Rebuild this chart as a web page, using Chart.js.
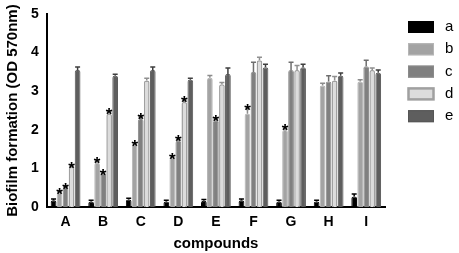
<!DOCTYPE html>
<html><head><meta charset="utf-8">
<script src="https://cdn.jsdelivr.net/npm/chart.js@4"></script>
<style>html,body{margin:0;padding:0;background:#fff}#wrap{width:459px;height:253px}</style>
</head><body><div id="wrap"><canvas id="c" width="459" height="253"></canvas></div>
<script>
const categories = ['A','B','C','D','E','F','G','H','I'];
const seriesNames = ['a','b','c','d','e'];
const valuesA = [0.18,0.15,0.20,0.15,0.17,0.18,0.15,0.15,0.28];
const valuesB = [0.38,1.15,1.62,1.28,3.35,2.42,2.00,3.15,3.25];
const valuesC = [0.50,0.88,2.28,1.72,2.25,3.50,3.55,3.25,3.65];
const valuesD = [1.05,2.42,3.28,2.72,3.18,3.80,3.55,3.28,3.55];
const valuesE = [3.55,3.40,3.55,3.30,3.45,3.62,3.62,3.40,3.48];
const errA = [0.03,0.03,0.03,0.03,0.03,0.03,0.03,0.03,0.06];
const errB = [0.03,0.06,0.05,0.05,0.06,0.18,0.08,0.06,0.05];
const errC = [0.04,0.04,0.08,0.08,0.06,0.25,0.20,0.15,0.15];
const errD = [0.04,0.06,0.06,0.08,0.05,0.08,0.12,0.10,0.05];
const errE = [0.08,0.04,0.08,0.04,0.15,0.08,0.08,0.07,0.07];
const starsA = [0,0,0,0,0,0,0,0,0];
const starsB = [1,1,1,1,0,1,1,0,0];
const starsC = [1,1,1,1,1,0,0,0,0];
const starsD = [1,1,0,1,0,0,0,0,0];
const starsE = [0,0,0,0,0,0,0,0,0];
const yTicks = [0,1,2,3,4,5];

const fills = ['#000000','#a3a3a3','#808080','#dcdcdc','#5e5e5e'];
const borders = ['#000000','#b5b5b5','#8a8a8a','#a0a0a0','#555555'];
const capCol = ['#000000','#8c8c8c','#6e6e6e','#909090','#3e3e3e'];
const allVals = [valuesA,valuesB,valuesC,valuesD,valuesE];
const allErr = [errA,errB,errC,errD,errE];
const allStars = [starsA,starsB,starsC,starsD,starsE];

const datasets = seriesNames.map((n,i)=>({
  label:n, data:allVals[i], backgroundColor:fills[i], borderColor:borders[i],
  borderWidth: i===3?1.5:1, borderSkipped:'bottom', borderRadius:{topLeft:2,topRight:2},
  categoryPercentage:0.8, barPercentage:0.95
}));

const extras = {
  id:'extras',
  afterDatasetsDraw(chart){
    const ctx = chart.ctx; const y = chart.scales.y;
    chart.data.datasets.forEach((ds,i)=>{
      const meta = chart.getDatasetMeta(i);
      meta.data.forEach((bar,j)=>{
        const v = ds.data[j], e = allErr[i][j];
        const yt = y.getPixelForValue(v+e), yv = y.getPixelForValue(v);
        ctx.save(); ctx.strokeStyle = capCol[i]; ctx.lineWidth = 1.5;
        ctx.beginPath(); ctx.moveTo(bar.x, yv); ctx.lineTo(bar.x, yt);
        ctx.moveTo(bar.x-2.5, yt); ctx.lineTo(bar.x+2.5, yt); ctx.stroke();
        if (allStars[i][j]) {
          ctx.fillStyle='#000'; ctx.font='bold 17px "Liberation Sans", Arial';
          ctx.textAlign='center'; ctx.textBaseline='alphabetic';
          ctx.fillText('*', bar.x, yt+9);
        }
        ctx.restore();
      });
    });
  },
  afterDraw(chart){
    const ctx = chart.ctx;
    ctx.save();
    chart.data.datasets.forEach((ds,i)=>{
      const top = 21 + i*22.3;
      ctx.fillStyle = fills[i]; ctx.strokeStyle = borders[i];
      ctx.lineWidth = i===3?2.5:1;
      ctx.fillRect(408, top, 26, 12);
      ctx.strokeRect(408.5, top+0.5, 25, 11);
      ctx.fillStyle='#000'; ctx.font='15px "Liberation Sans", Arial';
      ctx.textAlign='left'; ctx.textBaseline='middle';
      ctx.fillText(ds.label, 445, top+6);
    });
    ctx.restore();
  }
};

new Chart(document.getElementById('c'), {
  type:'bar',
  data:{labels:categories, datasets},
  options:{
    responsive:false, animation:false, devicePixelRatio:1,
    layout:{padding:{top:14,right:74,left:4,bottom:0}},
    plugins:{legend:{display:false}, tooltip:{enabled:false}},
    scales:{
      x:{grid:{display:false, drawTicks:true, tickLength:5, color:'#000'},
        border:{color:'#000', width:2},
        ticks:{color:'#000', font:{family:'"Liberation Sans", Arial', weight:'bold', size:14}, padding:2},
        title:{display:true, text:'compounds', color:'#000', font:{family:'"Liberation Sans", Arial', weight:'bold', size:15}, padding:{top:2,bottom:0}}},
      y:{min:0, max:5, afterBuildTicks(s){ s.ticks = yTicks.map(v=>({value:v})); },
        grid:{display:false, drawTicks:true, tickLength:5, color:'#000'},
        border:{color:'#000', width:2},
        ticks:{color:'#000', font:{family:'"Liberation Sans", Arial', weight:'bold', size:14}, padding:3},
        title:{display:true, text:'Biofilm formation (OD 570nm)', color:'#000', font:{family:'"Liberation Sans", Arial', weight:'bold', size:15}, padding:{top:0,bottom:6}}}
    }
  },
  plugins:[extras]
});
</script></body></html>
